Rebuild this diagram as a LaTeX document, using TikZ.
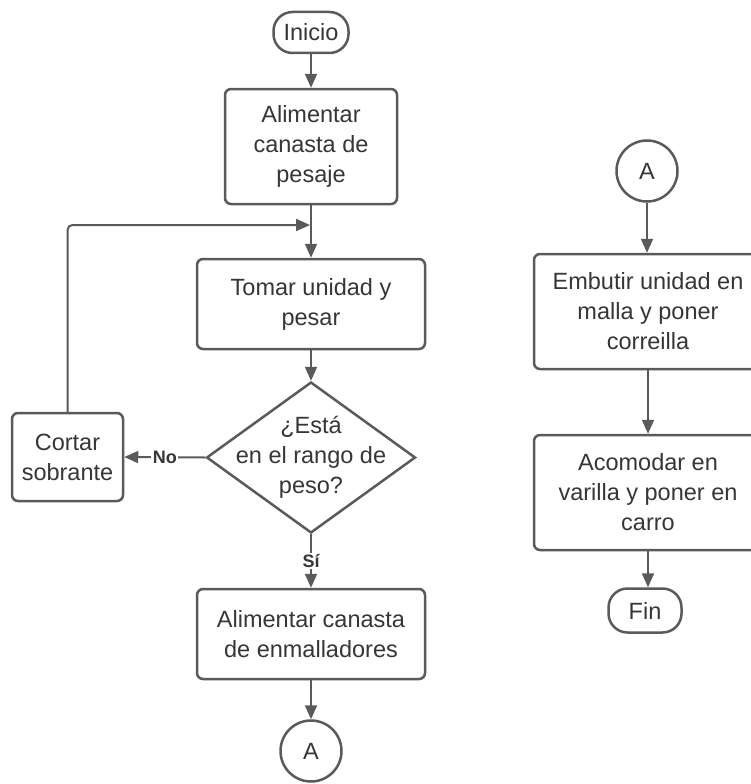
\documentclass[tikz,border=0pt]{standalone}
\usepackage{fontspec}
\setmainfont{Liberation Sans}
\usetikzlibrary{arrows.meta,shapes.geometric}
\definecolor{linegray}{HTML}{5A5A5A}
\definecolor{textgray}{HTML}{363636}
\begin{document}
\begin{tikzpicture}[x=1pt,y=-1pt,
  every node/.style={text=textgray, font=\fontsize{23.5}{30}\selectfont, align=center},
  procbox/.style={draw=linegray, line width=2.5pt, rounded corners=6pt, rectangle, inner sep=0pt},
  terminal/.style={draw=linegray, line width=2.5pt, rounded corners=19pt, rectangle, inner sep=0pt},
  connector/.style={draw=linegray, line width=2.5pt, circle, inner sep=0pt, minimum size=61pt},
  decision/.style={draw=linegray, line width=2.5pt, diamond, inner sep=0pt},
  flow/.style={draw=linegray, line width=2pt, -{Triangle[length=14pt,width=12pt]}},
  tag/.style={fill=white, inner sep=1.5pt, font=\fontsize{18}{20}\selectfont\bfseries}
]
\useasboundingbox (0,0) rectangle (751,784);
\fill[white] (0,0) rectangle (751,784);
\clip (0,0) rectangle (751,784);

% left column
\node[terminal, minimum width=75pt, minimum height=41pt] (start) at (311,32.5) {Inicio};
\node[procbox, minimum width=172pt, minimum height=115pt] (feed) at (311,146.5) {Alimentar\\canasta de\\pesaje};
\node[procbox, minimum width=228pt, minimum height=90pt] (weigh) at (311,304) {Tomar unidad y\\pesar};
\node[decision, minimum width=209pt, minimum height=151pt] (check) at (311,457.5) {};
\node at (check.center) (checktext) {¿Está\\en el rango de\\peso?};
\node[procbox, minimum width=111pt, minimum height=88pt] (cut) at (67.5,457) {Cortar\\sobrante};
\node[procbox, minimum width=228pt, minimum height=90pt] (mesh) at (311,634) {Alimentar canasta\\de enmalladores};
\node[connector] (outA) at (311,751) {A};
\coordinate (join) at (311,225);

% right column
\node[connector] (inA) at (647,171) {A};
\node[procbox, minimum width=228pt, minimum height=115pt] (stuff) at (648,311.5) {Embutir unidad en\\malla y poner\\correilla};
\node[procbox, minimum width=228pt, minimum height=115pt] (rack) at (648,492.5) {Acomodar en\\varilla y poner en\\carro};
\node[terminal, minimum width=73pt, minimum height=44pt] (finish) at (645,610.5) {Fin};

% connectors
\draw[flow] (start) -- (feed);
\draw[flow] (feed) -- (weigh);
\draw[flow] (weigh) -- (check);
\draw[flow] (check.west) -- node[tag] {No} (cut.east);
\draw[flow] (check.south) -- node[tag] {Sí} (mesh.north);
\draw[flow] (mesh) -- (outA);
\draw[flow, rounded corners=5pt, shorten >=1pt] (cut.north) |- (join);

\draw[flow] (inA) -- (stuff.north -| inA);
\draw[flow] (stuff) -- (rack);
\draw[flow] (rack.south) -- (rack.south |- finish.north);
\end{tikzpicture}
\end{document}
